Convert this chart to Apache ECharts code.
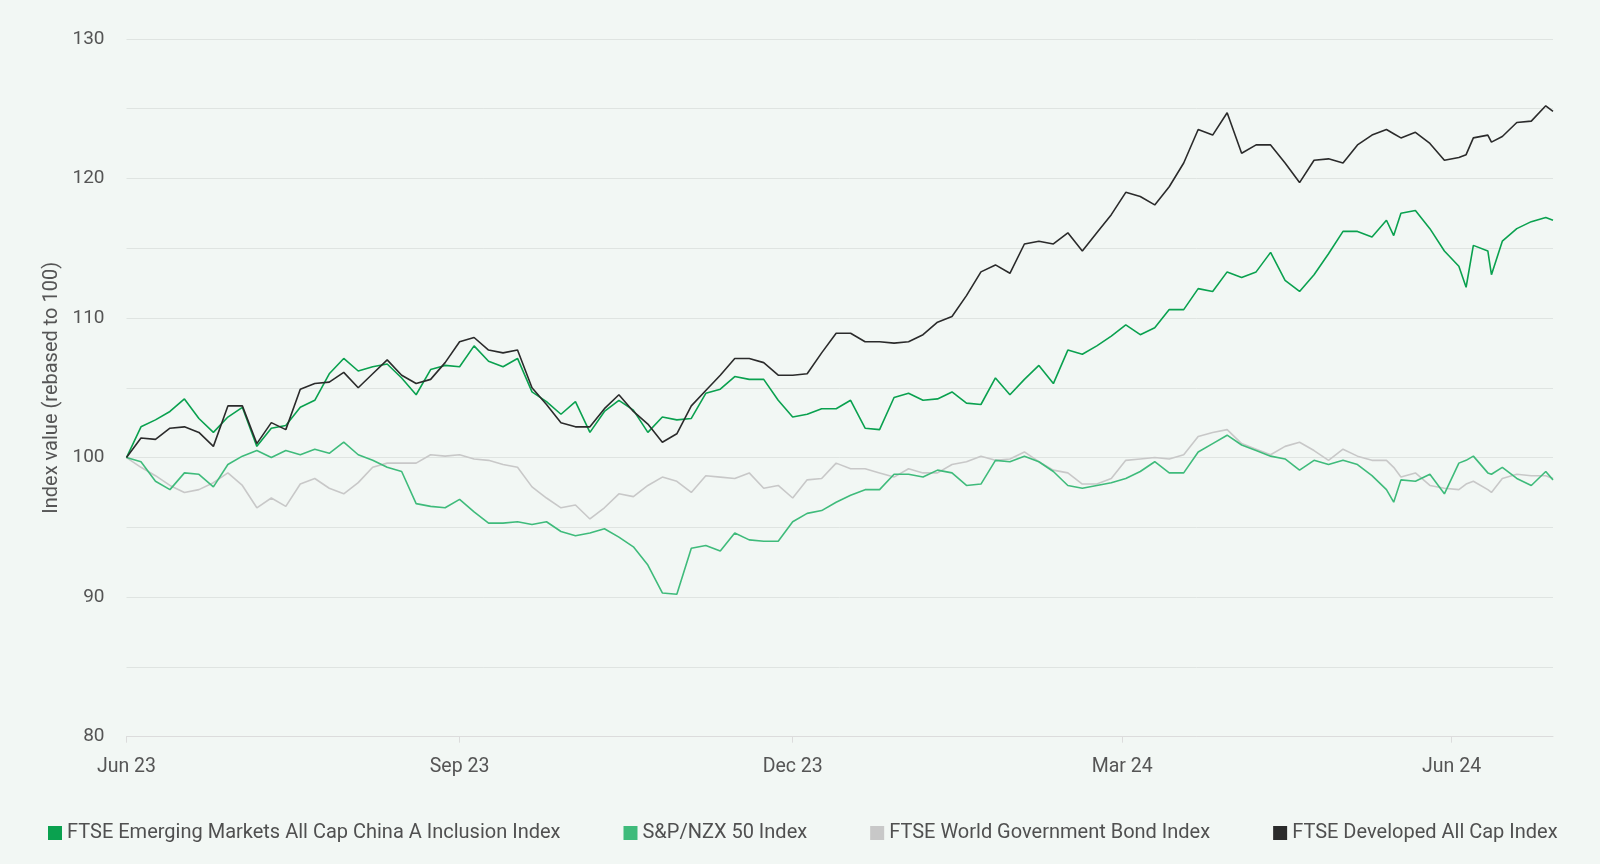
<!DOCTYPE html>
<html>
<head>
<meta charset="utf-8">
<script src="https://cdn.jsdelivr.net/npm/echarts@6/dist/echarts.min.js"></script>
<style>
html,body{margin:0;padding:0;background:#f2f7f4;}
#chart{width:1600px;height:864px;}
</style>
</head>
<body>
<div id="chart"></div>
<script>
// Day offsets from 30 Jun 2023
const days = [0,4,8,12,16,20,24,28,32,36,40,44,48,52,56,60,64,68,72,76,80,84,88,92,96,100,104,108,112,116,120,124,128,132,136,140,144,148,152,156,160,164,168,172,176,180,184,188,192,196,200,204,208,212,216,220,224,228,232,236,240,244,248,252,256,260,264,268,272,276,280,284,288,292,296,300,304,308,312,316,320,324,328,332,336,340,344,348,350,352,356,360,364,368,370,372,376,377,380,384,388,392,394];

const emChinaA = [100.0,102.2,102.7,103.3,104.2,102.8,101.8,102.9,103.6,100.8,102.1,102.3,103.6,104.1,106.0,107.1,106.2,106.5,106.7,105.7,104.5,106.3,106.6,106.5,108.0,106.9,106.5,107.1,104.7,104.0,103.1,104.0,101.8,103.3,104.1,103.4,101.8,102.9,102.7,102.8,104.6,104.9,105.8,105.6,105.6,104.1,102.9,103.1,103.5,103.5,104.1,102.1,102.0,104.3,104.6,104.1,104.2,104.7,103.9,103.8,105.7,104.5,105.6,106.6,105.3,107.7,107.4,108.0,108.7,109.5,108.8,109.3,110.6,110.6,112.1,111.9,113.3,112.9,113.3,114.7,112.7,111.9,113.1,114.6,116.2,116.2,115.8,117.0,115.9,117.5,117.7,116.4,114.8,113.7,112.2,115.2,114.8,113.1,115.5,116.4,116.9,117.2,117.0];

const nzx50 = [100.0,99.7,98.3,97.7,98.9,98.8,97.9,99.5,100.1,100.5,100.0,100.5,100.2,100.6,100.3,101.1,100.2,99.8,99.3,99.0,96.7,96.5,96.4,97.0,96.1,95.3,95.3,95.4,95.2,95.4,94.7,94.4,94.6,94.9,94.3,93.6,92.3,90.3,90.2,93.5,93.7,93.3,94.6,94.1,94.0,94.0,95.4,96.0,96.2,96.8,97.3,97.7,97.7,98.8,98.8,98.6,99.1,98.9,98.0,98.1,99.8,99.7,100.1,99.7,99.0,98.0,97.8,98.0,98.2,98.5,99.0,99.7,98.9,98.9,100.4,101.0,101.6,100.9,100.5,100.1,99.9,99.1,99.8,99.5,99.8,99.5,98.7,97.7,96.8,98.4,98.3,98.8,97.4,99.6,99.8,100.1,98.9,98.8,99.3,98.5,98.0,99.0,98.4];

const worldGovBond = [100.0,99.3,98.7,98.0,97.5,97.7,98.2,98.9,98.0,96.4,97.1,96.5,98.1,98.5,97.8,97.4,98.2,99.3,99.6,99.6,99.6,100.2,100.1,100.2,99.9,99.8,99.5,99.3,97.9,97.1,96.4,96.6,95.6,96.4,97.4,97.2,98.0,98.6,98.3,97.5,98.7,98.6,98.5,98.9,97.8,98.0,97.1,98.4,98.5,99.6,99.2,99.2,98.9,98.6,99.2,98.9,98.9,99.5,99.7,100.1,99.8,99.9,100.4,99.7,99.1,98.9,98.1,98.1,98.5,99.8,99.9,100.0,99.9,100.2,101.5,101.8,102.0,101.0,100.6,100.2,100.8,101.1,100.5,99.8,100.6,100.1,99.8,99.8,99.3,98.6,98.9,98.0,97.8,97.7,98.1,98.3,97.7,97.5,98.5,98.8,98.7,98.7,98.5];

const developed = [100.0,101.4,101.3,102.1,102.2,101.8,100.8,103.7,103.7,101.0,102.5,102.0,104.9,105.3,105.4,106.1,105.0,106.0,107.0,105.9,105.3,105.6,106.8,108.3,108.6,107.7,107.5,107.7,105.0,103.8,102.5,102.2,102.2,103.5,104.5,103.3,102.4,101.1,101.7,103.7,104.8,105.9,107.1,107.1,106.8,105.9,105.9,106.0,107.5,108.9,108.9,108.3,108.3,108.2,108.3,108.8,109.7,110.1,111.6,113.3,113.8,113.2,115.3,115.5,115.3,116.1,114.8,116.1,117.4,119.0,118.7,118.1,119.4,121.1,123.5,123.1,124.7,121.8,122.4,122.4,121.1,119.7,121.3,121.4,121.1,122.4,123.1,123.5,123.2,122.9,123.3,122.5,121.3,121.5,121.7,122.9,123.1,122.6,123.0,124.0,124.1,125.2,124.8];

const tickDays = [0,92,184,275,366];
const tickLabels = ['Jun 23','Sep 23','Dec 23','Mar 24','Jun 24'];

const seriesNames = ['FTSE Emerging Markets All Cap China A Inclusion Index','S&P/NZX 50 Index','FTSE World Government Bond Index','FTSE Developed All Cap Index'];
const seriesColors = ['#0aa14f','#3fbb7b','#c8c8c8','#2b2b2b'];
const seriesValues = [emChinaA, nzx50, worldGovBond, developed];

const chart = echarts.init(document.getElementById('chart'));
const labelMap = {};
tickDays.forEach((d,i)=>labelMap[d]=tickLabels[i]);

chart.setOption({
  backgroundColor:'#f2f7f4',
  animation:false,
  textStyle:{fontFamily:'Roboto'},
  grid:{left:126.5,right:47,top:38.8,bottom:127.3,containLabel:false},
  legend:{
    bottom:16,left:43,
    itemWidth:14,itemHeight:14,itemGap:63,
    icon:'rect',
    textStyle:{fontSize:20,color:'#505050',fontFamily:'Roboto'},
    data:seriesNames
  },
  xAxis:{
    type:'value',min:0,max:394,
    axisLine:{show:true,lineStyle:{color:'#dcdcdc'}},
    axisTick:{show:true,length:6,lineStyle:{color:'#dcdcdc'},customValues:tickDays},
    axisLabel:{show:true,fontSize:19.5,color:'#555',margin:20,customValues:tickDays,
      formatter:v=>labelMap[v]||''},
    splitLine:{show:false}
  },
  yAxis:{
    type:'value',min:80,max:130,interval:5,
    name:'Index value (rebased to 100)',nameLocation:'middle',nameGap:59,
    nameTextStyle:{fontSize:20,color:'#555',fontFamily:'Roboto'},
    axisLine:{show:false},axisTick:{show:false},
    axisLabel:{fontSize:19,color:'#555',margin:22,formatter:v=>(v%10===0?String(v):'')},
    splitLine:{lineStyle:{color:'#dfe4e1',width:1}}
  },
  series: seriesNames.map((n,i)=>({
    name:n,type:'line',showSymbol:false,symbol:'none',
    data: days.map((d,j)=>[d, seriesValues[i][j]]),
    lineStyle:{width:1.6,color:seriesColors[i]},
    itemStyle:{color:seriesColors[i]},
    z: [3,2,1,4][i]
  }))
});
</script>
</body>
</html>
